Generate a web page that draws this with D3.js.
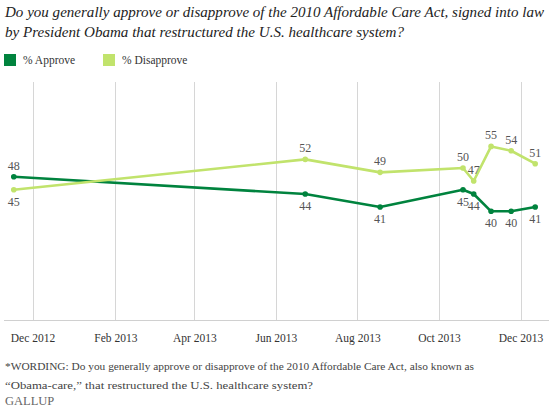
<!DOCTYPE html>
<html><head><meta charset="utf-8">
<script src="https://cdn.jsdelivr.net/npm/d3@7"></script>
<style>
html,body{margin:0;padding:0;background:#fff;}
svg{display:block;}
</style>
</head><body>
<svg id="c" width="549" height="420"></svg>
<script>
const dates = ["2012-11-17","2013-06-23","2013-08-18","2013-10-19","2013-10-27","2013-11-09","2013-11-24","2013-12-12"];
const approve = [48,44,41,45,44,40,40,41];
const disapprove = [45,52,49,50,47,55,54,51];
const seriesNames = ["% Approve","% Disapprove"];
const seriesColors = ["#00833e","#c1e36c"];
const tickDates = ["2012-12-01","2013-02-01","2013-04-01","2013-06-01","2013-08-01","2013-10-01","2013-12-01"];
const titleLines = ["Do you generally approve or disapprove of the 2010 Affordable Care Act, signed into law","by President Obama that restructured the U.S. healthcare system?"];
const noteLines = ["*WORDING: Do you generally approve or disapprove of the 2010 Affordable Care Act, also known as","\u201cObama-care,\u201d that restructured the U.S. healthcare system?"];

const parse = d3.timeParse("%Y-%m-%d");
const svg = d3.select("#c");
const serif = "'Liberation Serif','DejaVu Serif',serif";

const x = d3.scaleTime().domain([parse("2012-12-01"), parse("2013-12-01")]).range([32.5, 520.5]);
const y = d3.scaleLinear().domain([15, 70]).range([319.5, 81.5]);

// title
const titleW = [539, 399];
svg.append("g").selectAll("text").data(titleLines).join("text")
  .attr("x", 5).attr("y", (d,i)=>17+i*20)
  .attr("font-family", serif).attr("font-style","italic").attr("font-size", 14.5)
  .attr("textLength", (d,i)=>titleW[i]).attr("lengthAdjust","spacingAndGlyphs")
  .attr("fill", "#222").text(d=>d);

// legend
const lg = svg.append("g");
seriesNames.forEach((n,i)=>{
  const lx = 4 + i*99;
  lg.append("rect").attr("x", lx).attr("y", 54).attr("width", 12).attr("height", 12).attr("fill", seriesColors[i]);
  lg.append("text").attr("x", lx+19).attr("y", 63.5).attr("font-family", serif).attr("font-size", 11.5).attr("fill","#333").text(n);
});

// gridlines
const ticks = tickDates.map(parse);
svg.append("g").selectAll("line").data(ticks).join("line")
  .attr("x1", d=>Math.round(x(d))+0.5).attr("x2", d=>Math.round(x(d))+0.5)
  .attr("y1", 82).attr("y2", 320).attr("stroke", "#d6d6d6").attr("stroke-width", 1);

// x axis
const xAxis = d3.axisBottom(x).tickValues(ticks).tickFormat(d3.timeFormat("%b %Y")).tickSize(0).tickPadding(13);
const ax = svg.append("g").attr("transform","translate(0,320.5)").call(xAxis);
ax.select(".domain").remove();
ax.selectAll("text").attr("font-family", serif).attr("font-size", 11.5).attr("fill","#333");
svg.append("line").attr("x1",4).attr("x2",549).attr("y1",320.5).attr("y2",320.5).attr("stroke","#d0d0d0");

// series
const series = [approve, disapprove];
const line = d3.line().x(d=>x(parse(d.date))).y(d=>y(d.v));
series.forEach((vals,si)=>{
  const pts = vals.map((v,i)=>({date:dates[i], v, i}));
  svg.append("path").datum(pts).attr("d", line).attr("fill","none")
    .attr("stroke", seriesColors[si]).attr("stroke-width", 2.6).attr("stroke-linejoin","round");
  svg.append("g").selectAll("circle").data(pts).join("circle")
    .attr("cx", d=>x(parse(d.date))).attr("cy", d=>y(d.v)).attr("r", 2.8).attr("fill", seriesColors[si]);
});
// labels
series.forEach((vals,si)=>{
  const pts = vals.map((v,i)=>({date:dates[i], v, i}));
  svg.append("g").selectAll("text").data(pts).join("text")
    .attr("x", d=>x(parse(d.date))).attr("text-anchor","middle")
    .attr("y", d=>{
      const above = (si===1) !== (d.i===0);
      return y(d.v) + (above ? -7 : 16);
    })
    .attr("font-family", serif).attr("font-size", 12).attr("fill","#555").text(d=>d.v);
});

// note
const noteW = [469, 308];
svg.append("g").selectAll("text").data(noteLines).join("text")
  .attr("x", 5).attr("y", (d,i)=>370+i*18.5)
  .attr("font-family", serif).attr("font-size", 11)
  .attr("textLength", (d,i)=>noteW[i]).attr("lengthAdjust","spacingAndGlyphs")
  .attr("fill","#444").text(d=>d);
svg.append("text").attr("x",5).attr("y",405).attr("font-family", serif).attr("font-size", 12.5)
  .attr("fill","#666").text("GALLUP");
</script>
</body></html>
